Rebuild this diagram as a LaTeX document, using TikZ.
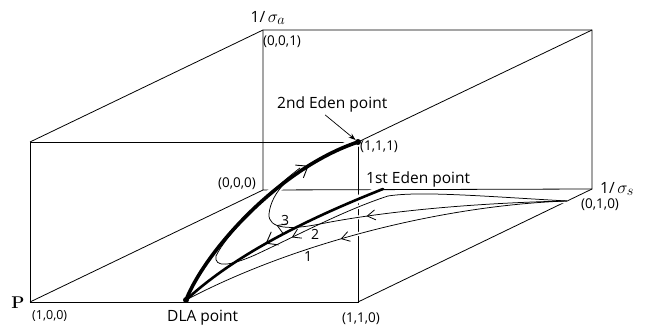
\documentclass[tikz,border=0pt]{standalone}
\usepackage{fontspec}
\newfontfamily\lblfont{Open Sans}
\usetikzlibrary{arrows.meta,decorations.markings}
\begin{document}
\begin{tikzpicture}[x=1pt,y=-1pt,
  edge/.style={line width=0.8pt},
  flow/.style={line width=0.75pt},
  thickflow/.style={line width=3.6pt,line cap=round},
  halo/.style={white,line width=4pt},
  lbl/.style={font=\lblfont\fontsize{15.5}{17}\selectfont, inner sep=0pt},
  crd/.style={font=\lblfont\fontsize{13.5}{15}\selectfont, inner sep=0pt},
  num/.style={font=\lblfont\fontsize{14}{16}\selectfont, inner sep=0pt},
  dot/.style={circle, fill, inner sep=0pt, minimum size=6pt},
  barb/.style={postaction={decorate},decoration={markings,mark=at position #1 with {\arrow{Straight Barb[length=8pt,width=10pt,line width=0.8pt]}}}},
  bigbarb/.style={postaction={decorate},decoration={markings,mark=at position #1 with {\arrow{Straight Barb[length=10pt,width=15pt,line width=0.9pt]}}}},
]
\useasboundingbox (0,0) rectangle (652,331);
% cube corners
\coordinate (p100) at (30,302);
\coordinate (p110) at (358,302);
\coordinate (p101) at (30,142);
\coordinate (p111) at (358,142);
\coordinate (p000) at (263,190);
\coordinate (p010) at (592,189);
\coordinate (p001) at (263,30);
\coordinate (p011) at (592,30);
\coordinate (DLA) at (186,300);
\coordinate (E1) at (383,189);
\coordinate (S) at (567,201);
% box edges
\draw[edge] (p100) -- (p110) -- (p111) -- (p101) -- cycle;
\draw[edge] (p101) -- (p001) -- (p011) -- (p010) -- (p110);
\draw[edge] (p111) -- (p011);
\draw[edge] (p100) -- (p000);
\draw[edge] (p001) -- (p000) -- (p010);
% white gaps where the trajectories pass in front
\draw[halo] (S) .. controls (450,205) and (300,240) .. (DLA);
\draw[halo] (S) .. controls (470,203) and (380,212) .. (320,224);
\draw[halo] (388,196) .. controls (345,210) and (300,234) .. (255,255);
\draw[halo, line width=8pt] (E1) .. controls (320,214) and (240,250) .. (DLA);
\draw[halo, line width=9pt] (DLA) .. controls (206,250) and (280,168) .. (p111);
\draw[edge] (p100) -- (p110);
% trajectories
\draw[flow, barb=0.58] (S) .. controls (450,205) and (300,240) .. (DLA);
\draw[flow] (S) .. controls (480,196) and (420,191) .. (388,196);
\draw[flow, barb=0.72] (388,196) .. controls (345,210) and (300,234) .. (255,255);
\draw[flow] (255,255) .. controls (230,266) and (214,268) .. (216,256)
   .. controls (226,235) and (268,192) .. (300,168);
\draw[flow, barb=0.81] (S) .. controls (470,203) and (380,212) .. (320,224);
\draw[flow, barb=0.75] (320,224) .. controls (290,230) and (268,229) .. (269,214);
\draw[flow] (269,214) .. controls (270,203) and (276,192) .. (285,183);
\draw[thickflow, line width=2.6pt, bigbarb=0.57] (E1) .. controls (320,214) and (240,250) .. (DLA);
\draw[thickflow, bigbarb=0.77] (DLA) .. controls (206,250) and (280,168) .. (p111);
% points
\node[dot] (dladot) at (DLA) {};
\node[dot] (dot111) at (p111) {};
% labels
\node[lbl] (sa) at (268,18) {1/\,{\fontsize{19}{20}\selectfont$\sigma_{a}$}};
\node[lbl, anchor=west] (ss) at (600,189) {1/\,{\fontsize{19}{20}\selectfont$\sigma_{s}$}};
\node[crd, anchor=west] (l001) at (263,42) {(0,0,1)};
\node[crd, anchor=west] (l111) at (360,147) {(1,1,1)};
\node[crd, anchor=east] (l000) at (256,184) {(0,0,0)};
\node[crd] (l110) at (361,319) {(1,1,0)};
\node[crd, anchor=west] (l010) at (581,205) {(0,1,0)};
\node[crd, anchor=west, font=\lblfont\fontsize{12.5}{14}\selectfont] (l100) at (32,316) {(1,0,0)};
\node[inner sep=0pt, font=\fontsize{17}{19}\selectfont\bfseries] (P) at (18,303) {P};
\node[lbl, anchor=west] (dlal) at (167,318) {DLA point};
\node[lbl, anchor=west] (e1l) at (366,179) {1st Eden point};
\node[lbl, anchor=west] (e2l) at (277,104) {2nd Eden point};
\draw[line width=0.7pt, -{Stealth[length=7pt,width=5pt]}] ([xshift=-7pt,yshift=-3pt]e2l.south) -- (dot111);
\node[num] (n1) at (308,257) {1};
\node[num] (n2) at (315,234) {2};
\node[num] (n3) at (285,220) {3};
\end{tikzpicture}
\end{document}
